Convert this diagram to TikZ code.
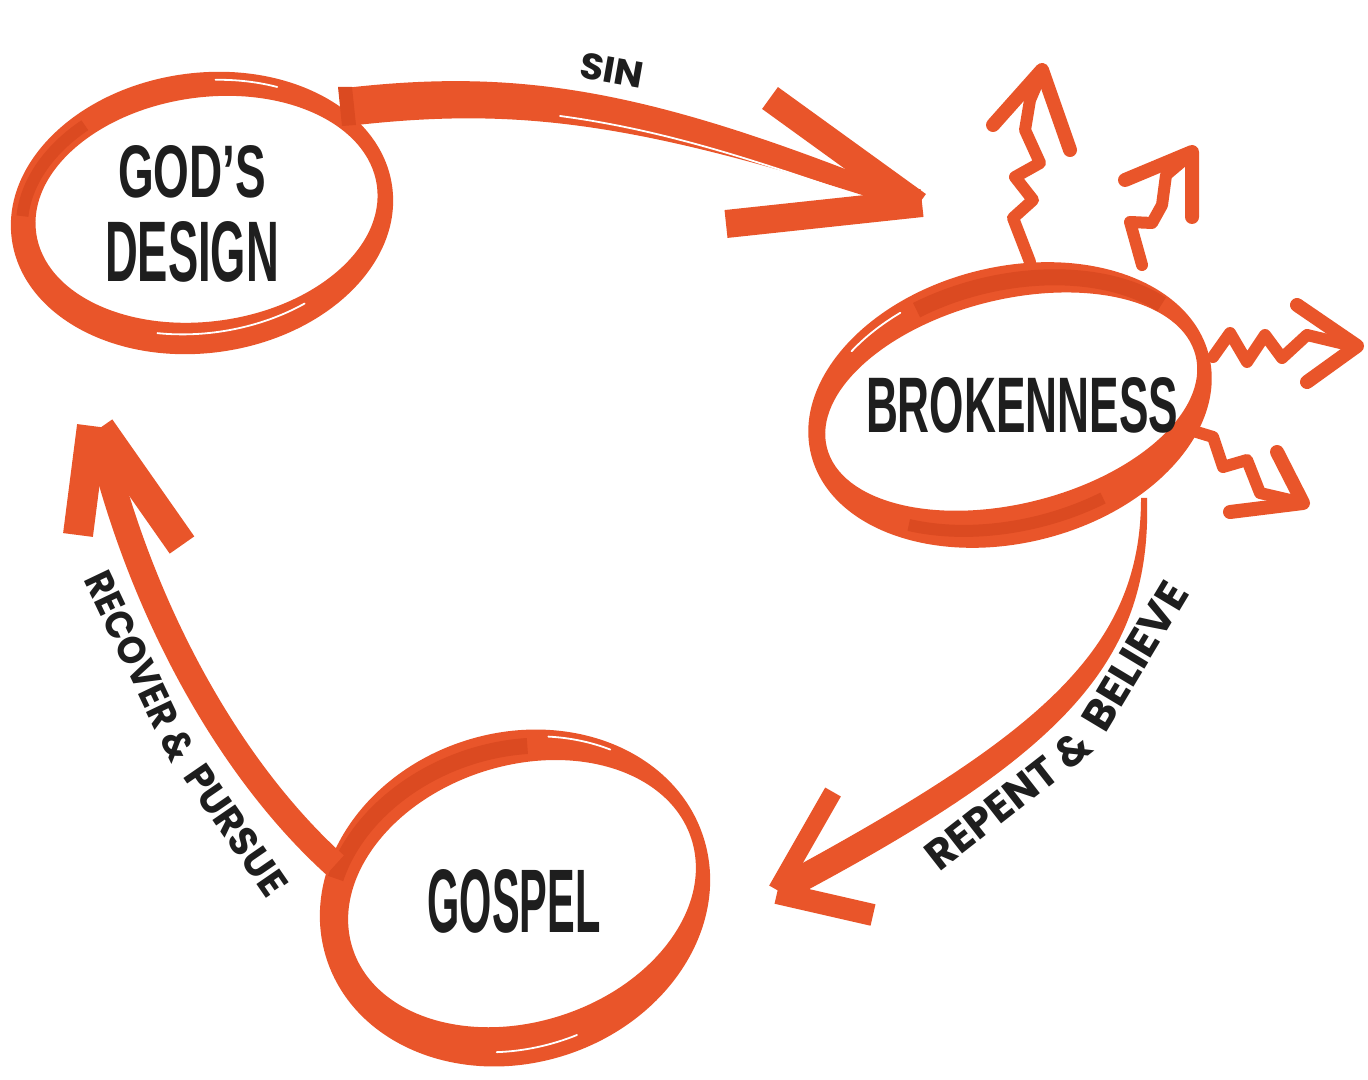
\documentclass[tikz,border=0pt]{standalone}
\usepackage{fontspec}
\usepackage{graphicx}
\setmainfont{Liberation Sans}
\newfontfamily\bigfont{Liberation Sans}
\newfontfamily\labfont{Poppins}
\definecolor{brush}{HTML}{E9552A}
\definecolor{brushdk}{HTML}{DB4A21}
\definecolor{ink}{HTML}{1E1E1E}
\newlength\pxu
\setlength\pxu{0.01cm}
\newcommand\fitbox[3]{\resizebox{#1\pxu}{#2\pxu}{#3}}
\tikzset{
  ring/.style={fill=brush, even odd rule},
  darkband/.style={draw=brushdk, line width=#1, line cap=butt},
  streak/.style={draw=white, line width=0.018cm, line cap=round},
  shaft/.style={fill=brush},
  barb/.style={draw=brush, line width=#1, line cap=butt},
  zig/.style={draw=brush, line width=0.12cm, line join=round, line cap=round},
  zigbarb/.style={draw=brush, line width=0.14cm, line join=round, line cap=round},
  biglabel/.style={inner sep=0pt, text=ink, font=\bigfont\bfseries},
  smalllabel/.style={inner sep=0pt, text=ink, font=\labfont\bfseries}
}
\begin{document}
\begin{tikzpicture}[x=0.01cm, y=0.01cm]
\useasboundingbox (0,0) rectangle (1368,-1080);
\fill[white] (0,0) rectangle (1368,-1080);

% ---------- rings ----------
\begin{scope}[shift={(202,-213)}, rotate=8]
  \fill[ring] (0,0) ellipse [x radius=192, y radius=140]
              (5,3) ellipse [x radius=172, y radius=112];
  \draw[darkband=0.12cm] (125:181 and 126) arc[start angle=125, end angle=170, x radius=181, y radius=126];
  \draw[streak] (250:178 and 120) arc[start angle=250, end angle=300, x radius=178, y radius=120];
  \draw[streak] (60:184 and 132) arc[start angle=60, end angle=80, x radius=184, y radius=132];
\end{scope}
\begin{scope}[shift={(1010,-405)}, rotate=14]
  \fill[ring] (0,0) ellipse [x radius=205, y radius=138]
              (2,3) ellipse [x radius=190, y radius=102];
  \draw[darkband=0.16cm] (30:198 and 122) arc[start angle=30, end angle=110, x radius=198, y radius=122];
  \draw[darkband=0.12cm] (230:198 and 120) arc[start angle=230, end angle=290, x radius=198, y radius=120];
  \draw[streak] (115:199 and 128) arc[start angle=115, end angle=135, x radius=199, y radius=128];
\end{scope}
\begin{scope}[shift={(515,-898)}, rotate=18]
  \fill[ring] (0,0) ellipse [x radius=198, y radius=165]
              (8,2) ellipse [x radius=178, y radius=128];
  \draw[darkband=0.16cm] (72:190 and 148) arc[start angle=72, end angle=150, x radius=190, y radius=148];
  \draw[streak] (45:193 and 158) arc[start angle=45, end angle=65, x radius=193, y radius=158];
  \draw[streak] (250:190 and 150) arc[start angle=250, end angle=275, x radius=190, y radius=150];
\end{scope}

% ---------- labels in rings ----------
\node[biglabel] (gods) at (192,-172) {\fitbox{148}{52}{GOD’S}};
\node[biglabel] (design) at (192,-252) {\fitbox{174}{60}{DESIGN}};
\node[biglabel] (brok) at (1022,-405) {\fitbox{312}{55}{BROKENNESS}};
\node[biglabel] (gospel) at (514,-901) {\fitbox{173}{63}{GOSPEL}};

% ---------- SIN arrow ----------
\coordinate (sinStart) at (345,-106);
\coordinate (sinTip) at (918,-205);
\fill[shaft] (345,-88) .. controls (520,-68) and (650,-88) .. (918,-198)
   -- (915,-212) .. controls (640,-122) and (520,-106) .. (348,-126) -- cycle;
\fill[brushdk] (338,-87) -- (352,-87) -- (356,-125) -- (342,-126) -- cycle;
\draw[streak] (560,-116) .. controls (680,-132) and (780,-170) .. (880,-203);
\draw[barb=0.27cm] (770,-98) -- (sinTip);
\draw[barb=0.28cm] (726,-224) -- (922,-203);
\node[smalllabel, rotate=-10] (sin) at (612,-70) {\fitbox{64}{26}{SIN}};

% ---------- REPENT & BELIEVE arrow ----------
\coordinate (repTip) at (777,-890);
\fill[shaft] (1141,-498) .. controls (1141,-650) and (1040,-735) .. (775,-878)
   -- (783,-903) .. controls (1060,-757) and (1152,-665) .. (1147,-498) -- cycle;
\draw[barb=0.18cm] (repTip) -- (833,-792);
\draw[barb=0.22cm] (777,-893) -- (873,-915);
\node[smalllabel, rotate=38] (repent) at (1008,-800) {\fitbox{198}{30}{REPENT \&}};
\node[smalllabel, rotate=59] (believe) at (1135,-656) {\fitbox{165}{30}{BELIEVE}};

% ---------- RECOVER & PURSUE arrow ----------
\coordinate (recBase) at (335,-865);
\coordinate (recTip) at (98,-430);
\draw[brush, line width=0.26cm] (recBase) .. controls (230,-770) and (140,-610) .. (recTip);
\draw[barb=0.30cm] (92,-426) -- (78,-535);
\draw[barb=0.30cm] (100,-428) -- (182,-545);
\node[smalllabel, rotate=-64.5] (recov) at (140,-666) {\fitbox{205}{28}{RECOVER \&}};
\node[smalllabel, rotate=-55.5] (pursue) at (236,-830) {\fitbox{150}{28}{PURSUE}};

% ---------- zigzag rays ----------
\draw[zig] (1030,-262) -- (1013,-218) -- (1033,-200) -- (1015,-177) -- (1040,-163)
   -- (1025,-130) -- (1030,-100) -- (1042,-72);
\draw[zigbarb] (993,-125) -- (1042,-70) -- (1070,-150);

\draw[zig] (1142,-265) -- (1130,-222) -- (1152,-223) -- (1162,-205) -- (1166,-175) -- (1192,-153);
\draw[zigbarb] (1125,-180) -- (1192,-152) -- (1192,-217);

\draw[zig] (1213,-357) -- (1230,-333) -- (1247,-362) -- (1265,-335) -- (1282,-358)
   -- (1307,-335) -- (1357,-347);
\draw[zigbarb] (1297,-305) -- (1357,-346) -- (1307,-382);

\draw[zig] (1190,-430) -- (1213,-437) -- (1223,-467) -- (1247,-460) -- (1260,-493) -- (1303,-503);
\draw[zigbarb] (1277,-452) -- (1303,-503) -- (1230,-512);
\end{tikzpicture}
\end{document}
